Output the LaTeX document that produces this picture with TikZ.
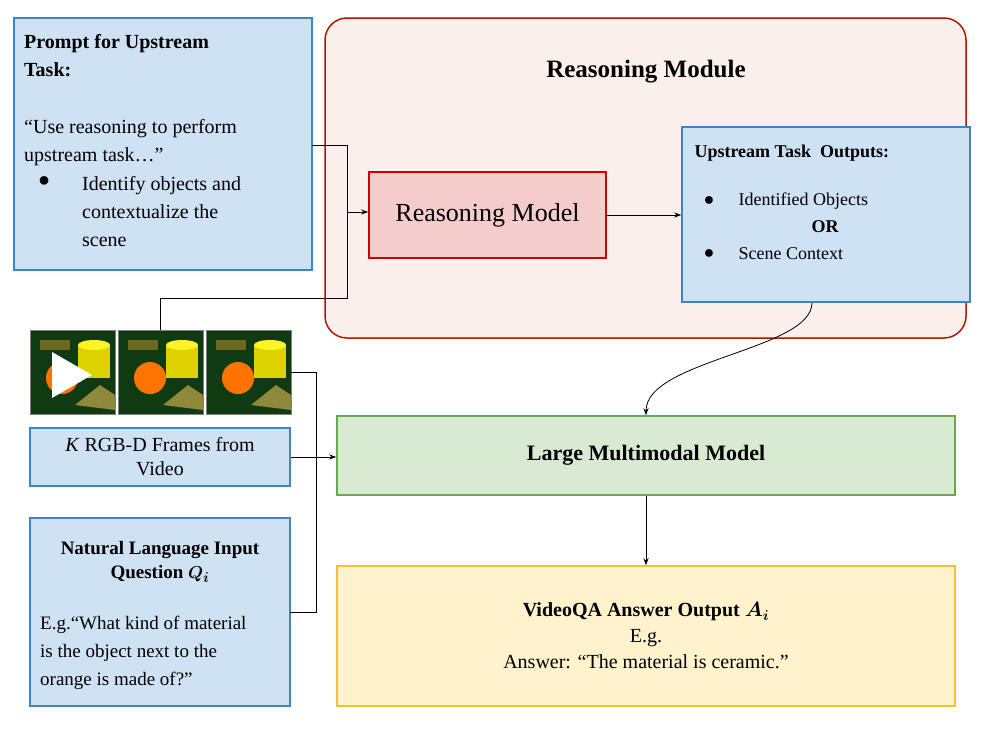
\documentclass[tikz,border=0pt]{standalone}
\usepackage{amsmath}
\usepackage{fontspec}
\setmainfont{Liberation Serif}
\usetikzlibrary{arrows.meta}
\definecolor{bfill}{HTML}{CFE2F3}
\definecolor{bline}{HTML}{3D85C6}
\definecolor{rfill}{HTML}{FBEFEC}
\definecolor{rline}{HTML}{A61C00}
\definecolor{mfill}{HTML}{F4CCCC}
\definecolor{mline}{HTML}{CC0000}
\definecolor{gfill}{HTML}{D9EAD3}
\definecolor{gline}{HTML}{6AA84F}
\definecolor{yfill}{HTML}{FFF2CC}
\definecolor{yline}{HTML}{F1C232}
\definecolor{dgreen}{HTML}{0F3A12}
\begin{document}
\begin{tikzpicture}[x=1pt,y=-1pt,
 bbox/.style={draw=bline,fill=bfill,line width=1.5pt},
 arr/.style={-{Stealth[length=7pt,width=5pt]},line width=0.8pt},
 ln/.style={line width=0.8pt},
 txt/.style={font=\fontsize{20}{28}\selectfont,align=left,anchor=north west,inner sep=0pt}]
\useasboundingbox (0,0) rectangle (996,747);
% Reasoning module
\draw[draw=rline,fill=rfill,line width=1.5pt,rounded corners=22pt] (325,18) rectangle (966,338);
\node[font=\fontsize{25}{30}\selectfont\bfseries] (rmt) at (646,72) {Reasoning Module};
% prompt
\draw[bbox] (14,18) rectangle (312,270);
\coordinate (pr) at (312,145);
\node[txt,font=\fontsize{20}{28}\selectfont\bfseries] (p1) at (24,34) {Prompt for Upstream\\Task:};
\node[txt] (p2) at (24,119) {“Use reasoning to perform\\upstream task…”};
\node[txt] (p3) at (38,176) {●};
\node[txt] (p4) at (82,176) {Identify objects and\\contextualize the\\scene};
% reasoning model
\node[draw=mline,fill=mfill,line width=1.5pt,minimum width=237pt,minimum height=86pt,font=\fontsize{26}{30}\selectfont] (rm) at (487.5,215) {Reasoning Model};
% upstream
\node[bbox,minimum width=288pt,minimum height=175pt] (up) at (826,214.5) {};
\node[font=\fontsize{18}{22}\selectfont\bfseries,anchor=west] (u1) at (691,153) {Upstream Task\ \ Outputs:};
\node[font=\fontsize{18}{22}\selectfont,anchor=west] (u2) at (700,201) {●};
\node[font=\fontsize{18}{22}\selectfont,anchor=west] (u3) at (735,201) {Identified Objects};
\node[font=\fontsize{18}{22}\selectfont\bfseries] (u4) at (825,227) {OR};
\node[font=\fontsize{18}{22}\selectfont,anchor=west] (u5) at (700,254) {●};
\node[font=\fontsize{18}{22}\selectfont,anchor=west] (u6) at (735,254) {Scene Context};
% frames
\foreach \x/\n in {30/f1,118/f2,206/f3}{
 \node[draw=gray,fill=dgreen,minimum width=85pt,minimum height=84pt,inner sep=0pt,line width=0.8pt] (\n) at (\x+42.5,372) {};
 \fill[yellow!70!olive] (\x+48,345) rectangle (\x+80,378);
 \fill[yellow!85!white] (\x+64,345) ellipse (16pt and 5pt);
 \fill[orange!90!red] (\x+32,378) circle (16pt);
 \fill[olive!60!gray] (\x+45,405) -- (\x+70,385) -- (\x+85,395) -- (\x+85,410) -- cycle;
 \fill[olive!70!black] (\x+10,340) rectangle (\x+40,350);
}
\fill[white] (52,352) -- (52,398) -- (92,375) -- cycle;
% K box
\node[bbox,minimum width=260pt,minimum height=58pt,font=\fontsize{20}{24}\selectfont,align=center] (kb) at (160,457) {\textit{K} RGB-D Frames from\\Video};
% NL box
\draw[bbox] (30,518) rectangle (290,706);
\node[font=\fontsize{19}{24}\selectfont\bfseries,align=center] (n1) at (160,562) {Natural Language Input\\Question $\boldsymbol{Q_i}$};
\node[txt,font=\fontsize{19}{28}\selectfont] (n2) at (40,616) {E.g.“What kind of material\\is the object next to the\\orange is made of?”};
% LMM
\node[draw=gline,fill=gfill,line width=1.5pt,minimum width=618pt,minimum height=79pt,font=\fontsize{22}{26}\selectfont\bfseries] (lmm) at (646,455.5) {Large Multimodal Model};
% VideoQA
\node[draw=yline,fill=yfill,line width=1.5pt,minimum width=618pt,minimum height=140pt,font=\fontsize{20}{26}\selectfont,align=center] (vqa) at (646,636) {\textbf{VideoQA Answer Output} $\boldsymbol{A_i}$\\E.g.\\Answer: “The material is ceramic.”};
% connectors
\coordinate (j1) at (347,145);
\coordinate (j2) at (347,298);
\coordinate (j3) at (160,298);
\coordinate (j4) at (347,212);
\coordinate (cx) at (812,0);
\coordinate (nr) at (290,612);
\coordinate (c1) at (316,372);
\coordinate (c2) at (316,612);
\draw[ln] (pr) -- (j1) -- (j2) -- (j3) -- (f2.north -| j3);
\draw[arr] (j4) -- (rm.west |- j4);
\draw[arr] (rm.east) -- (up.west |- rm.east);
\draw[arr] (up.south -| cx) .. controls (812,350) and (646,360) .. (lmm.north);
\draw[ln] (f3.east |- c1) -- (c1) -- (c2) -- (nr);
\draw[arr] (kb.east) -- (lmm.west |- kb.east);
\draw[arr] (lmm.south) -- (vqa.north);
\end{tikzpicture}
\end{document}
